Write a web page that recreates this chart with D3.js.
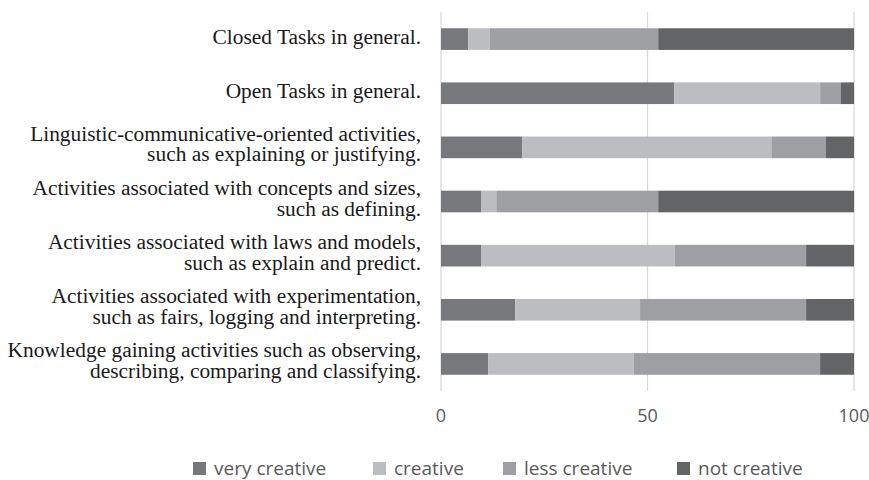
<!DOCTYPE html>
<html>
<head>
<meta charset="utf-8">
<script src="https://cdn.jsdelivr.net/npm/d3@7"></script>
<style>
  html, body { margin: 0; padding: 0; background: #fff; }
  svg { display: block; }
</style>
</head>
<body>
<svg id="chart" width="869" height="480"></svg>
<script>
// Task categories (top to bottom), each label split into its printed lines
const categories = [
  ["Closed Tasks in general."],
  ["Open Tasks in general."],
  ["Linguistic-communicative-oriented activities,", "such as explaining or justifying."],
  ["Activities associated with concepts and sizes,", "such as defining."],
  ["Activities associated with laws and models,", "such as explain and predict."],
  ["Activities associated with experimentation,", "such as fairs, logging and interpreting."],
  ["Knowledge gaining activities such as observing,", "describing, comparing and classifying."]
];

// Series names
const seriesNames = ["very creative", "creative", "less creative", "not creative"];

// Percentages per series, in category order
const veryCreative = [6.6, 56.5, 19.7, 9.8, 9.8, 18.0, 11.4];
const creative     = [5.2, 35.3, 60.3, 3.6, 46.8, 30.2, 35.3];
const lessCreative = [40.8, 5.0, 13.2, 39.2, 31.8, 40.2, 45.1];
const notCreative  = [47.4, 3.2, 6.8, 47.4, 11.6, 11.6, 8.2];

// Axis ticks
const xTicks = [0, 50, 100];

const colors = ["#77787c", "#bcbdc1", "#9e9fa3", "#636466"];

const svg = d3.select("#chart");
const plot = { left: 441, right: 854, top: 12, bottom: 391 };

const rows = categories.map((c, i) => ({
  idx: i,
  lines: c,
  [seriesNames[0]]: veryCreative[i],
  [seriesNames[1]]: creative[i],
  [seriesNames[2]]: lessCreative[i],
  [seriesNames[3]]: notCreative[i]
}));

const x = d3.scaleLinear().domain([0, 100]).range([plot.left, plot.right]);
const y = d3.scaleBand().domain(rows.map(d => d.idx))
  .range([plot.top, plot.bottom]).paddingInner(0.6).paddingOuter(0.3);

// Vertical gridlines
svg.append("g")
  .selectAll("line")
  .data(xTicks)
  .join("line")
  .attr("x1", d => x(d)).attr("x2", d => x(d))
  .attr("y1", plot.top).attr("y2", plot.bottom)
  .attr("stroke", "#d9d9d9")
  .attr("stroke-width", 1.3);

// Stacked bars
const stack = d3.stack().keys(seriesNames)(rows);
svg.append("g")
  .selectAll("g")
  .data(stack)
  .join("g")
  .attr("fill", (d, i) => colors[i])
  .selectAll("rect")
  .data(d => d)
  .join("rect")
  .attr("x", d => x(d[0]))
  .attr("width", d => x(d[1]) - x(d[0]))
  .attr("y", d => y(d.data.idx))
  .attr("height", y.bandwidth());

// Category labels (slightly widened serif face, right-aligned)
const labelRight = 421;
const labels = svg.append("g")
  .attr("transform", `translate(${labelRight},0) scale(1.07,1)`)
  .attr("font-family", "'Liberation Serif', 'Times New Roman', serif")
  .attr("font-size", 20)
  .attr("fill", "#1a1a1a")
  .attr("text-anchor", "end");
rows.forEach(r => {
  const n = r.lines.length;
  const cy = y(r.idx) + y.bandwidth() / 2 - (n > 1 ? 3 : 1.5);
  r.lines.forEach((line, j) => {
    labels.append("text")
      .attr("x", 0)
      .attr("y", cy + (j - (n - 1) / 2) * 20.5)
      .attr("dominant-baseline", "central")
      .text(line);
  });
});

// X axis tick labels
svg.append("g")
  .attr("font-family", "'Open Sans', sans-serif")
  .attr("font-size", 18)
  .attr("fill", "#595959")
  .attr("text-anchor", "middle")
  .selectAll("text")
  .data(xTicks)
  .join("text")
  .attr("x", d => x(d))
  .attr("y", 422)
  .text(d => d);

// Legend
const legendX = [193, 373, 503, 677];
const legend = svg.append("g")
  .attr("font-family", "'Open Sans', sans-serif")
  .attr("font-size", 19)
  .attr("fill", "#595959");
seriesNames.forEach((name, i) => {
  legend.append("rect")
    .attr("x", legendX[i]).attr("y", 462)
    .attr("width", 13).attr("height", 13)
    .attr("fill", colors[i]);
  legend.append("text")
    .attr("x", legendX[i] + 21).attr("y", 474.5)
    .text(name);
});
</script>
</body>
</html>
